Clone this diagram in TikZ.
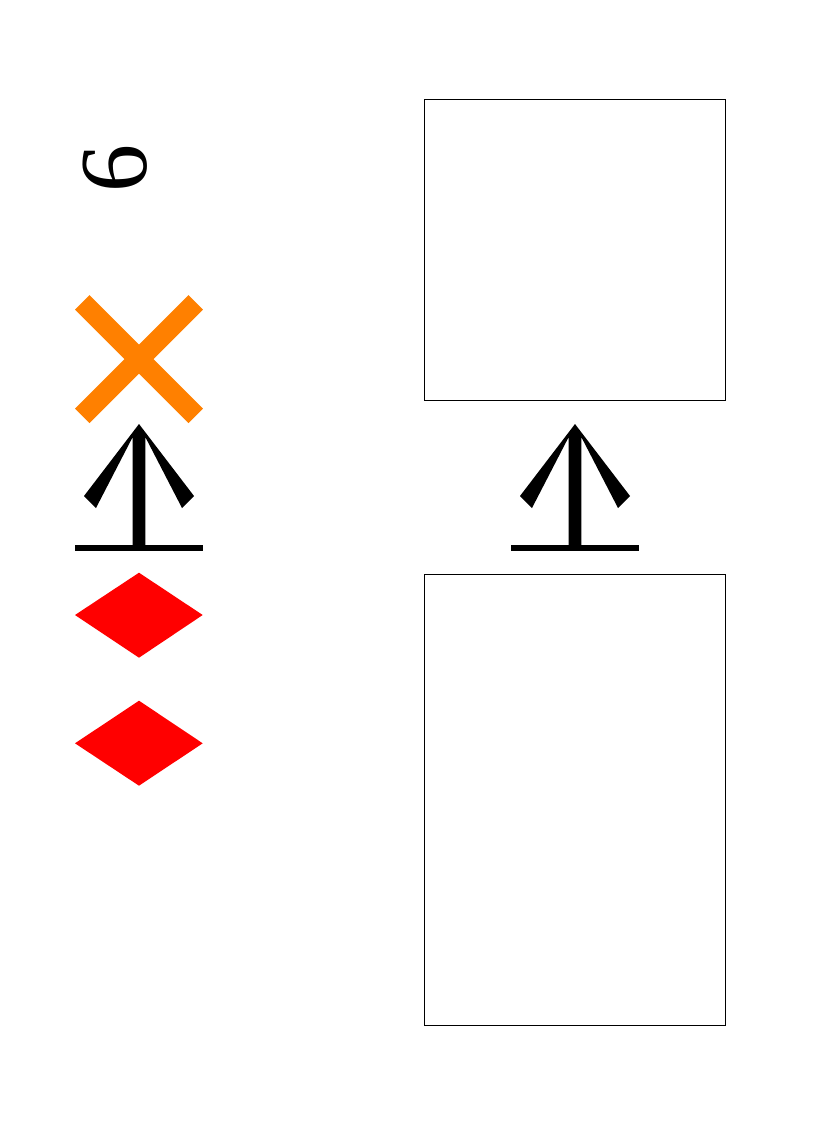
\documentclass[tikz,border=0pt]{standalone}
\usepackage{fontspec}
\setmainfont{Liberation Serif}
\usepackage{tikz}
\definecolor{crossorange}{RGB}{255,128,0}

\begin{document}
\begin{tikzpicture}[line cap=butt,line join=miter,x=1pt,y=-1pt]
\useasboundingbox (0,0) rectangle (825,1125);
% rotated digit
\node[rotate=90,inner sep=0pt,font=\fontsize{96}{110}\selectfont] (digit) at (115.5,168) {6};
% orange cross
\draw [color=crossorange,line width=20.5pt] (82.25,302.25)-- (195.75,415.75);
\draw [color=crossorange,line width=20.5pt] (195.75,302.25)-- (82.25,415.75);
% arrows standing on a bar
\foreach \c in {139,575} {
  \fill ({\c},424)-- ({\c+55},496)-- ({\c+43},508)-- ({\c+6.3},437)-- ({\c+6.3},546)-- ({\c-6.3},546)-- ({\c-6.3},437)-- ({\c-43},508)-- ({\c-55},496)-- cycle;
  \fill ({\c-64},544.5) rectangle ({\c+64},551);
}
% red diamonds
\fill [red] (139,572.7)-- (202.7,615)-- (139,657.7)-- (75,615)-- cycle;
\fill [red] (139,700.7)-- (202.7,743.3)-- (139,785.7)-- (75,743.3)-- cycle;
% empty boxes
\draw [line width=1pt] (424.7,99.3) rectangle (725,400.7);
\draw [line width=1pt] (424.7,574.3) rectangle (725,1025.3);
\end{tikzpicture}
\end{document}
